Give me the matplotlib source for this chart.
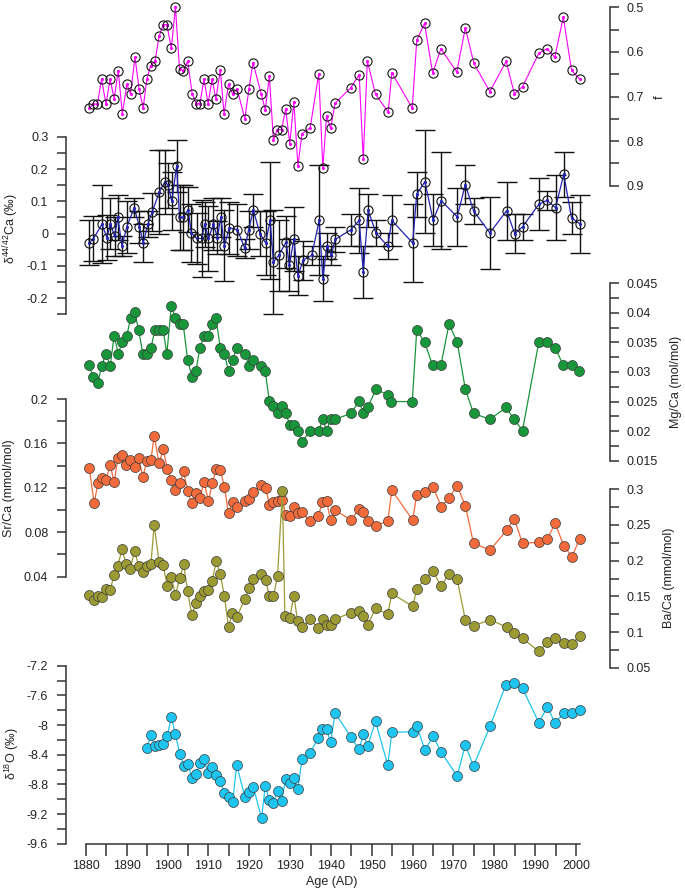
import matplotlib
matplotlib.use('Agg')
import matplotlib.pyplot as plt
from matplotlib.ticker import MultipleLocator, FuncFormatter

plt.rcParams['font.family'] = ['Liberation Sans', 'DejaVu Sans']
plt.rcParams['mathtext.fontset'] = 'custom'
plt.rcParams['mathtext.rm'] = 'Liberation Sans'
plt.rcParams['mathtext.default'] = 'regular'
plt.rcParams['font.size'] = 9
plt.rcParams['axes.unicode_minus'] = False

# ---- data ----
f_year = [1880.8, 1881.8, 1882.8, 1883.8, 1884.9, 1885.9, 1886.9, 1887.9, 1888.9, 1890.0,
          1890.9, 1892.0, 1893.0, 1894.0, 1894.9, 1895.8, 1896.9, 1897.9, 1898.9, 1899.8,
          1900.9, 1901.9, 1902.9, 1903.8, 1904.9, 1906.0, 1907.0, 1907.9, 1908.9, 1909.9,
          1910.9, 1911.8, 1912.9, 1913.8, 1914.9, 1915.9, 1917.0, 1918.9, 1919.9, 1920.9,
          1922.9, 1923.9, 1924.9, 1925.9, 1926.8, 1927.9, 1928.9, 1929.9, 1930.9, 1931.9,
          1932.9, 1934.9, 1937.0, 1938.0, 1938.9, 1939.9, 1941.0, 1944.8, 1946.9, 1947.9,
          1948.9, 1950.9, 1954.0, 1954.9, 1959.9, 1961.0, 1962.9, 1964.9, 1966.9, 1970.8,
          1972.9, 1975.0, 1978.9, 1982.9, 1984.9, 1986.9, 1990.9, 1992.9, 1994.8, 1996.9,
          1998.9, 2000.9]
f_val = [0.726, 0.717, 0.717, 0.661, 0.717, 0.661, 0.705, 0.642, 0.739, 0.673,
         0.694, 0.612, 0.683, 0.726, 0.661, 0.631, 0.621, 0.565, 0.539, 0.539,
         0.592, 0.499, 0.638, 0.642, 0.621, 0.694, 0.716, 0.716, 0.661, 0.716,
         0.661, 0.705, 0.641, 0.739, 0.672, 0.694, 0.683, 0.750, 0.683, 0.624,
         0.694, 0.730, 0.654, 0.798, 0.775, 0.774, 0.727, 0.806, 0.712, 0.855,
         0.784, 0.770, 0.649, 0.860, 0.744, 0.771, 0.715, 0.681, 0.651, 0.841,
         0.620, 0.695, 0.735, 0.647, 0.726, 0.574, 0.536, 0.648, 0.593, 0.645,
         0.546, 0.626, 0.689, 0.621, 0.694, 0.678, 0.603, 0.593, 0.612, 0.522,
         0.641, 0.661]

ca_year = [1880.8, 1881.8, 1883.9, 1885.1, 1886.0, 1887.0, 1887.8, 1888.8, 1890.0, 1891.8,
           1893.1, 1894.0, 1895.2, 1896.2, 1898.0, 1899.3, 1900.1, 1901.0, 1902.2, 1902.9,
           1903.8, 1905.0, 1905.8, 1907.1, 1908.3, 1909.1, 1910.0, 1911.2, 1912.2, 1913.0,
           1913.9, 1915.1, 1917.1, 1918.9, 1919.8, 1921.0, 1922.6, 1924.0, 1925.1, 1925.9,
           1927.2, 1929.0, 1929.8, 1930.9, 1931.9, 1933.2, 1935.3, 1937.1, 1938.0, 1939.0,
           1940.1, 1941.0, 1944.9, 1946.9, 1947.9, 1949.1, 1951.0, 1953.9, 1954.9, 1960.0,
           1961.0, 1963.0, 1965.0, 1967.0, 1970.9, 1972.9, 1974.9, 1978.9, 1983.0, 1985.0,
           1986.9, 1990.9, 1992.9, 1995.0, 1997.0, 1998.9, 2001.0]
ca_val = [-0.028, -0.016, 0.029, -0.012, 0.031, -0.008, 0.051, -0.038, 0.021, 0.080,
          0.021, -0.029, 0.031, 0.067, 0.13, 0.16, 0.15, 0.10, 0.21, 0.05,
          0.05, 0.074, 0.002, -0.015, -0.015, 0.029, -0.015, 0.029, -0.012, 0.051,
          -0.037, 0.018, 0.012, -0.046, 0.011, 0.072, 0.0, -0.029, 0.041, -0.088,
          -0.067, -0.026, -0.098, -0.017, -0.13, -0.082, -0.067, 0.041, -0.139, -0.037,
          -0.067, -0.018, 0.012, 0.041, -0.119, 0.072, 0.002, -0.039, 0.041, -0.029,
          0.122, 0.161, 0.042, 0.102, 0.052, 0.152, 0.071, 0.002, 0.071, 0.0,
          0.021, 0.091, 0.103, 0.080, 0.184, 0.049, 0.030]
ca_err = [0.07, 0.07, 0.12, 0.07, 0.08, 0.06, 0.07, 0.03, 0.08, 0.03,
          0.05, 0.06, 0.04, 0.06, 0.13, 0.10, 0.07, 0.09, 0.08, 0.10,
          0.10, 0.07, 0.09, 0.08, 0.12, 0.07, 0.10, 0.08, 0.05, 0.06,
          0.11, 0.08, 0.08, 0.03, 0.06, 0.05, 0.07, 0.10, 0.18, 0.16,
          0.11, 0.08, 0.08, 0.10, 0.06, 0.06, 0.03, 0.17, 0.07, 0.04,
          0.03, 0.04, 0.05, 0.10, 0.08, 0.05, 0.04, 0.04, 0.08, 0.12,
          0.07, 0.16, 0.08, 0.15, 0.09, 0.06, 0.04, 0.11, 0.09, 0.06,
          0.04, 0.08, 0.03, 0.10, 0.07, 0.05, 0.09]

mg_year = [1880.8, 1881.8, 1882.9, 1883.8, 1884.9, 1885.9, 1886.9, 1887.9, 1888.9, 1890.0,
           1890.9, 1891.9, 1892.9, 1893.9, 1894.9, 1895.9, 1896.9, 1897.9, 1898.9, 1899.8,
           1900.9, 1901.9, 1902.9, 1903.8, 1904.9, 1906.0, 1906.9, 1907.9, 1908.9, 1909.9,
           1910.9, 1911.8, 1912.9, 1913.9, 1914.9, 1915.9, 1916.9, 1918.9, 1919.9, 1920.9,
           1922.9, 1923.9, 1924.9, 1925.9, 1926.9, 1927.9, 1928.9, 1929.9, 1930.9, 1931.9,
           1932.9, 1934.9, 1937.0, 1938.0, 1938.9, 1939.9, 1941.0, 1944.9, 1946.9, 1947.9,
           1949.0, 1951.0, 1954.0, 1954.8, 1959.9, 1961.0, 1962.9, 1964.9, 1966.9, 1968.9,
           1970.9, 1972.9, 1974.9, 1978.9, 1982.9, 1984.8, 1986.9, 1990.9, 1992.9, 1994.9,
           1996.9, 1998.9, 2000.8]
mg_val = [0.0311, 0.0291, 0.0281, 0.0310, 0.0331, 0.0310, 0.0361, 0.0331, 0.0351, 0.0361,
          0.0391, 0.0401, 0.0371, 0.0331, 0.0331, 0.0341, 0.0371, 0.0371, 0.0371, 0.0331,
          0.0411, 0.0392, 0.0381, 0.0381, 0.0320, 0.0291, 0.0301, 0.0341, 0.0361, 0.0361,
          0.0381, 0.0391, 0.0341, 0.0331, 0.0301, 0.0320, 0.0341, 0.0331, 0.0310, 0.0320,
          0.0310, 0.0301, 0.0251, 0.0242, 0.0230, 0.0242, 0.0230, 0.0211, 0.0211, 0.0201,
          0.0181, 0.0201, 0.0201, 0.0220, 0.0201, 0.0220, 0.0220, 0.0230, 0.0251, 0.0230,
          0.0240, 0.0271, 0.0261, 0.0250, 0.0250, 0.0371, 0.0351, 0.0311, 0.0311, 0.0381,
          0.0351, 0.0271, 0.0230, 0.0220, 0.0240, 0.0220, 0.0201, 0.0351, 0.0351, 0.0341,
          0.0311, 0.0311, 0.0301]

sr_year = [1880.8, 1882.0, 1882.9, 1883.8, 1884.9, 1885.9, 1886.9, 1887.8, 1888.8, 1889.8,
           1890.8, 1891.9, 1892.9, 1893.9, 1894.9, 1895.9, 1896.7, 1897.9, 1898.9, 1899.9,
           1900.9, 1901.8, 1903.0, 1903.9, 1904.9, 1905.9, 1907.0, 1907.9, 1908.9, 1910.0,
           1910.9, 1911.9, 1912.9, 1913.9, 1914.9, 1915.9, 1916.9, 1918.9, 1920.0, 1921.0,
           1922.9, 1924.0, 1924.9, 1925.9, 1926.9, 1928.1, 1928.9, 1929.9, 1930.9, 1931.9,
           1932.9, 1934.9, 1936.9, 1937.9, 1938.9, 1939.9, 1941.0, 1944.9, 1946.9, 1947.9,
           1949.0, 1950.9, 1953.9, 1954.9, 1960.0, 1961.0, 1963.0, 1965.0, 1967.0, 1968.9,
           1970.9, 1972.9, 1974.9, 1979.0, 1983.0, 1984.9, 1986.9, 1990.9, 1993.0, 1994.9,
           1997.0, 1999.0, 2000.9]
sr_val = [0.138, 0.106, 0.124, 0.129, 0.127, 0.141, 0.125, 0.147, 0.150, 0.141,
          0.145, 0.139, 0.147, 0.130, 0.144, 0.145, 0.167, 0.142, 0.155, 0.137,
          0.127, 0.118, 0.124, 0.135, 0.117, 0.106, 0.115, 0.111, 0.125, 0.108,
          0.124, 0.137, 0.136, 0.121, 0.097, 0.107, 0.103, 0.108, 0.110, 0.116,
          0.123, 0.120, 0.105, 0.107, 0.108, 0.109, 0.096, 0.095, 0.103, 0.097,
          0.098, 0.090, 0.095, 0.107, 0.108, 0.091, 0.100, 0.091, 0.101, 0.098,
          0.090, 0.086, 0.090, 0.118, 0.091, 0.114, 0.116, 0.121, 0.103, 0.111,
          0.122, 0.104, 0.070, 0.064, 0.082, 0.092, 0.070, 0.071, 0.074, 0.088,
          0.068, 0.058, 0.074]

ba_year = [1880.8, 1882.0, 1882.9, 1883.8, 1884.9, 1885.9, 1886.9, 1887.8, 1888.8, 1889.8,
           1890.8, 1891.9, 1892.9, 1893.9, 1894.9, 1895.9, 1896.7, 1897.9, 1898.9, 1899.9,
           1900.9, 1901.9, 1903.0, 1903.9, 1904.9, 1905.9, 1907.0, 1907.9, 1908.9, 1910.0,
           1910.9, 1911.9, 1912.9, 1913.9, 1914.9, 1915.8, 1916.9, 1918.9, 1920.0, 1921.0,
           1922.9, 1924.0, 1924.9, 1925.9, 1926.9, 1928.1, 1928.7, 1929.9, 1930.9, 1931.8,
           1933.0, 1934.9, 1936.9, 1938.0, 1938.9, 1940.0, 1941.0, 1944.9, 1946.9, 1947.9,
           1949.0, 1950.9, 1953.9, 1954.9, 1960.0, 1961.0, 1963.0, 1965.0, 1967.0, 1968.9,
           1970.9, 1972.9, 1974.9, 1979.0, 1983.0, 1984.9, 1986.9, 1990.9, 1993.0, 1994.9,
           1997.0, 1999.0, 2000.9]
ba_val = [0.152, 0.145, 0.151, 0.149, 0.160, 0.159, 0.180, 0.193, 0.216, 0.196,
          0.188, 0.214, 0.192, 0.184, 0.193, 0.196, 0.250, 0.198, 0.194, 0.164,
          0.177, 0.152, 0.176, 0.195, 0.157, 0.124, 0.141, 0.151, 0.158, 0.159,
          0.172, 0.199, 0.181, 0.150, 0.107, 0.126, 0.121, 0.146, 0.162, 0.175,
          0.181, 0.173, 0.150, 0.150, 0.178, 0.298, 0.123, 0.120, 0.151, 0.116,
          0.107, 0.118, 0.105, 0.118, 0.110, 0.110, 0.118, 0.127, 0.130, 0.122,
          0.110, 0.133, 0.125, 0.154, 0.136, 0.160, 0.175, 0.185, 0.164, 0.182,
          0.174, 0.117, 0.109, 0.117, 0.107, 0.099, 0.091, 0.073, 0.086, 0.092,
          0.084, 0.083, 0.095]

o_year = [1894.9, 1895.9, 1896.9, 1897.9, 1898.9, 1899.9, 1900.9, 1901.9, 1903.0, 1904.0,
          1905.0, 1905.9, 1907.0, 1907.9, 1908.9, 1909.9, 1910.9, 1911.8, 1912.8, 1913.9,
          1914.9, 1915.9, 1916.9, 1918.9, 1920.0, 1921.0, 1923.0, 1923.9, 1924.9, 1925.9,
          1926.9, 1927.9, 1928.9, 1929.9, 1930.9, 1931.9, 1932.9, 1934.9, 1936.9, 1937.9,
          1938.9, 1939.9, 1941.0, 1944.9, 1946.9, 1947.9, 1949.0, 1950.9, 1953.9, 1954.9,
          1960.0, 1961.0, 1963.0, 1965.0, 1967.0, 1970.9, 1972.9, 1974.9, 1979.0, 1982.8,
          1984.8, 1986.9, 1990.9, 1993.0, 1994.9, 1997.0, 1999.0, 2000.9]
o_val = [-8.315, -8.135, -8.283, -8.265, -8.252, -8.144, -7.897, -8.126, -8.396, -8.548,
         -8.530, -8.710, -8.661, -8.508, -8.458, -8.652, -8.571, -8.674, -8.755, -8.912,
         -8.975, -9.043, -8.539, -8.966, -8.908, -8.840, -9.258, -8.818, -9.011, -9.047,
         -8.890, -9.020, -8.728, -8.787, -8.719, -8.858, -8.458, -8.373, -8.171, -8.058,
         -8.058, -8.234, -7.834, -8.166, -8.328, -8.126, -8.279, -7.950, -8.539, -8.099,
         -8.090, -8.009, -8.337, -8.152, -8.368, -8.688, -8.265, -8.553, -8.009, -7.460,
         -7.437, -7.505, -7.969, -7.753, -7.978, -7.834, -7.843, -7.798]

# ---- layout (pixels of a 685x891 canvas) ----
W, H = 685, 891
fig = plt.figure(figsize=(W / 100, H / 100), dpi=100)
AX = '#333333'
X0, X1 = 65.7, 609.5
PX_YR = 4.0833
XLIM = (1880 + (X0 - 86) / PX_YR, 1880 + (X1 - 86) / PX_YR)
fmt = FuncFormatter(lambda v, p: '%g' % round(v, 6))


def panel(top_px, bot_px, top_val, bot_val, side, major, minor):
    ax = fig.add_axes([X0 / W, 1 - bot_px / H, (X1 - X0) / W, (bot_px - top_px) / H])
    ax.set_xlim(XLIM)
    ax.set_ylim(bot_val, top_val)
    ax.patch.set_visible(False)
    for s in ['top', 'bottom', 'left', 'right']:
        ax.spines[s].set_visible(s == side)
    ax.spines[side].set_color(AX)
    ax.spines[side].set_linewidth(1.1)
    ax.set_xticks([])
    ax.yaxis.set_ticks_position(side)
    ax.yaxis.set_major_locator(MultipleLocator(major))
    ax.yaxis.set_minor_locator(MultipleLocator(minor))
    ax.yaxis.set_major_formatter(fmt)
    ax.tick_params(axis='y', which='both', length=6.5, width=1.1, color=AX,
                   pad=6, labelsize=9, labelcolor='#222222')
    return ax


def dots(ax, x, y, face):
    ax.plot(x, y, color=face, lw=0.9, marker='o', ms=7.2, mfc=face,
            mec='#3a3a3a', mew=0.5, clip_on=False)


# f
ax_f = panel(7.3, 185.7, 0.5, 0.9, 'right', 0.1, 0.05)
ax_f.plot(f_year, f_val, color='#ff00ff', lw=0.8, marker='.', ms=2.5, clip_on=False)
ax_f.plot(f_year, f_val, ls='none', marker='o', ms=6.6, mfc='none', mec='#111111',
          mew=0.8, clip_on=False)

# Ca isotopes
ax_ca = panel(136.7, 314.4, 0.3, -0.25, 'left', 0.1, 0.05)
eb = ax_ca.errorbar(ca_year, ca_val, yerr=ca_err, fmt='none', ecolor='#111111',
                    elinewidth=1, capsize=7.3, capthick=1)
for art in list(eb.lines[1]) + list(eb.lines[2]):
    art.set_clip_on(False)
ax_ca.plot(ca_year, ca_val, color='#2323b4', lw=0.9, marker='.', ms=2.5, clip_on=False)
ax_ca.plot(ca_year, ca_val, ls='none', marker='o', ms=6.6, mfc='none', mec='#111111',
           mew=0.8, clip_on=False)

# Mg/Ca
ax_mg = panel(283.3, 460.7, 0.045, 0.015, 'right', 0.005, 0.0025)
dots(ax_mg, mg_year, mg_val, '#18963a')

# Sr/Ca
ax_sr = panel(399.0, 576.7, 0.2, 0.04, 'left', 0.04, 0.02)
dots(ax_sr, sr_year, sr_val, '#f36a3b')

# Ba/Ca
ax_ba = panel(489.3, 667.7, 0.3, 0.05, 'right', 0.05, 0.025)
dots(ax_ba, ba_year, ba_val, '#9b9a33')

# d18O + shared age axis
ax_o = panel(665.7, 843.7, -7.2, -9.6, 'left', 0.4, 0.2)
dots(ax_o, o_year, o_val, '#1ec5f1')
ax_o.spines['bottom'].set_visible(True)
ax_o.spines['bottom'].set_color(AX)
ax_o.spines['bottom'].set_linewidth(1.1)
ax_o.spines['bottom'].set_bounds(1880, 2001)
ax_o.set_xticks(list(range(1880, 2001, 5)))
ax_o.set_xticklabels([str(y) if y % 10 == 0 else '' for y in range(1880, 2001, 5)])
ax_o.tick_params(axis='x', length=8.5, width=1.1, color=AX, pad=3, labelsize=9,
                 labelcolor='#222222')


def label(x, y, text, rot=90):
    fig.text(x / W, 1 - y / H, text, rotation=rot, ha='center', va='center',
             fontsize=9, color='#222222')


label(660, 97, 'f')
label(11, 229, 'δ$^{44/42}$Ca (‰)')
label(676, 382, 'Mg/Ca (mol/mol)')
label(9, 488, 'Sr/Ca (mmol/mol)')
label(669, 578, 'Ba/Ca (mmol/mol)')
label(12, 754, 'δ$^{18}$O (‰)')
label(332, 882, 'Age (AD)', rot=0)

fig.savefig('out.png', dpi=100)
